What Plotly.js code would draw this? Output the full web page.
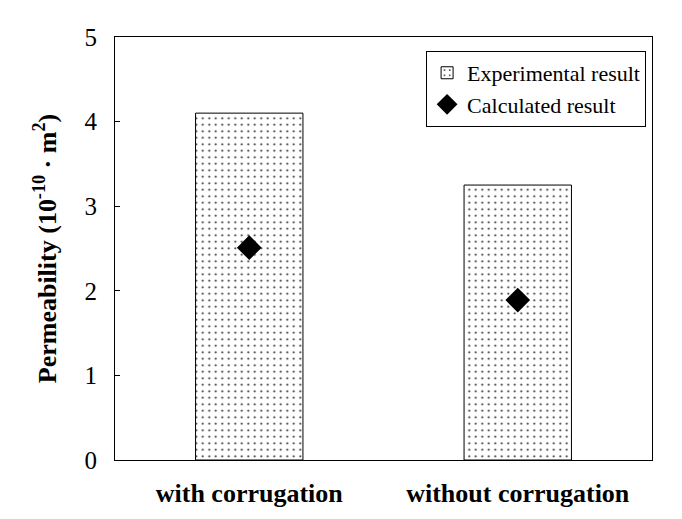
<!DOCTYPE html>
<html><head><meta charset="utf-8">
<script src="https://cdn.plot.ly/plotly-3.0.1.min.js"></script>
<style>body{margin:0;background:#fff}#c{width:682px;height:519px}</style>
</head><body><div id="c"></div>
<script>
const categories = ["with corrugation", "without corrugation"];
const experimental = [4.10, 3.25];
const calculated = [2.51, 1.89];
const yTicks = [0, 1, 2, 3, 4, 5];

const serif = "Liberation Serif, Times New Roman, serif";
const data = [
  {type: "bar", name: "Experimental result", x: categories, y: experimental, width: 0.4,
   marker: {color: "white", line: {color: "black", width: 1},
            pattern: {shape: ".", fgcolor: "#222", bgcolor: "white", size: 6.5, solidity: 0.08}}},
  {type: "scatter", mode: "markers", name: "Calculated result", x: categories, y: calculated,
   marker: {symbol: "diamond", size: 19, color: "black"}}
];
const layout = {
  width: 682, height: 519,
  margin: {l: 115, r: 30, t: 37, b: 59},
  paper_bgcolor: "white", plot_bgcolor: "white",
  showlegend: true,
  legend: {x: 0.989, y: 0.967, xanchor: "right", yanchor: "top",
           bordercolor: "black", borderwidth: 1, bgcolor: "white",
           font: {family: serif, size: 22, color: "black"},
           itemwidth: 30, tracegroupgap: 0},
  xaxis: {type: "category", range: [-0.5, 1.5], showline: true, mirror: true, linecolor: "black",
          linewidth: 1, ticks: "", showgrid: false,
          tickfont: {family: serif, size: 26, color: "black", weight: "bold"}, ticklabelstandoff: 10},
  yaxis: {range: [0, 5], tickvals: yTicks, ticktext: yTicks.map(String), showline: true, mirror: true,
          linecolor: "black", linewidth: 1, ticks: "inside", ticklen: 5, tickcolor: "black",
          showgrid: false, zeroline: false,
          tickfont: {family: serif, size: 25, color: "black"}, ticklabelstandoff: 12,
          title: {text: "Permeability (10<sup>-10</sup> · m<sup>2</sup>)", standoff: 20,
                  font: {family: serif, size: 26, color: "black", weight: "bold"}}}
};
Plotly.newPlot("c", data, layout, {displayModeBar: false});
</script></body></html>
